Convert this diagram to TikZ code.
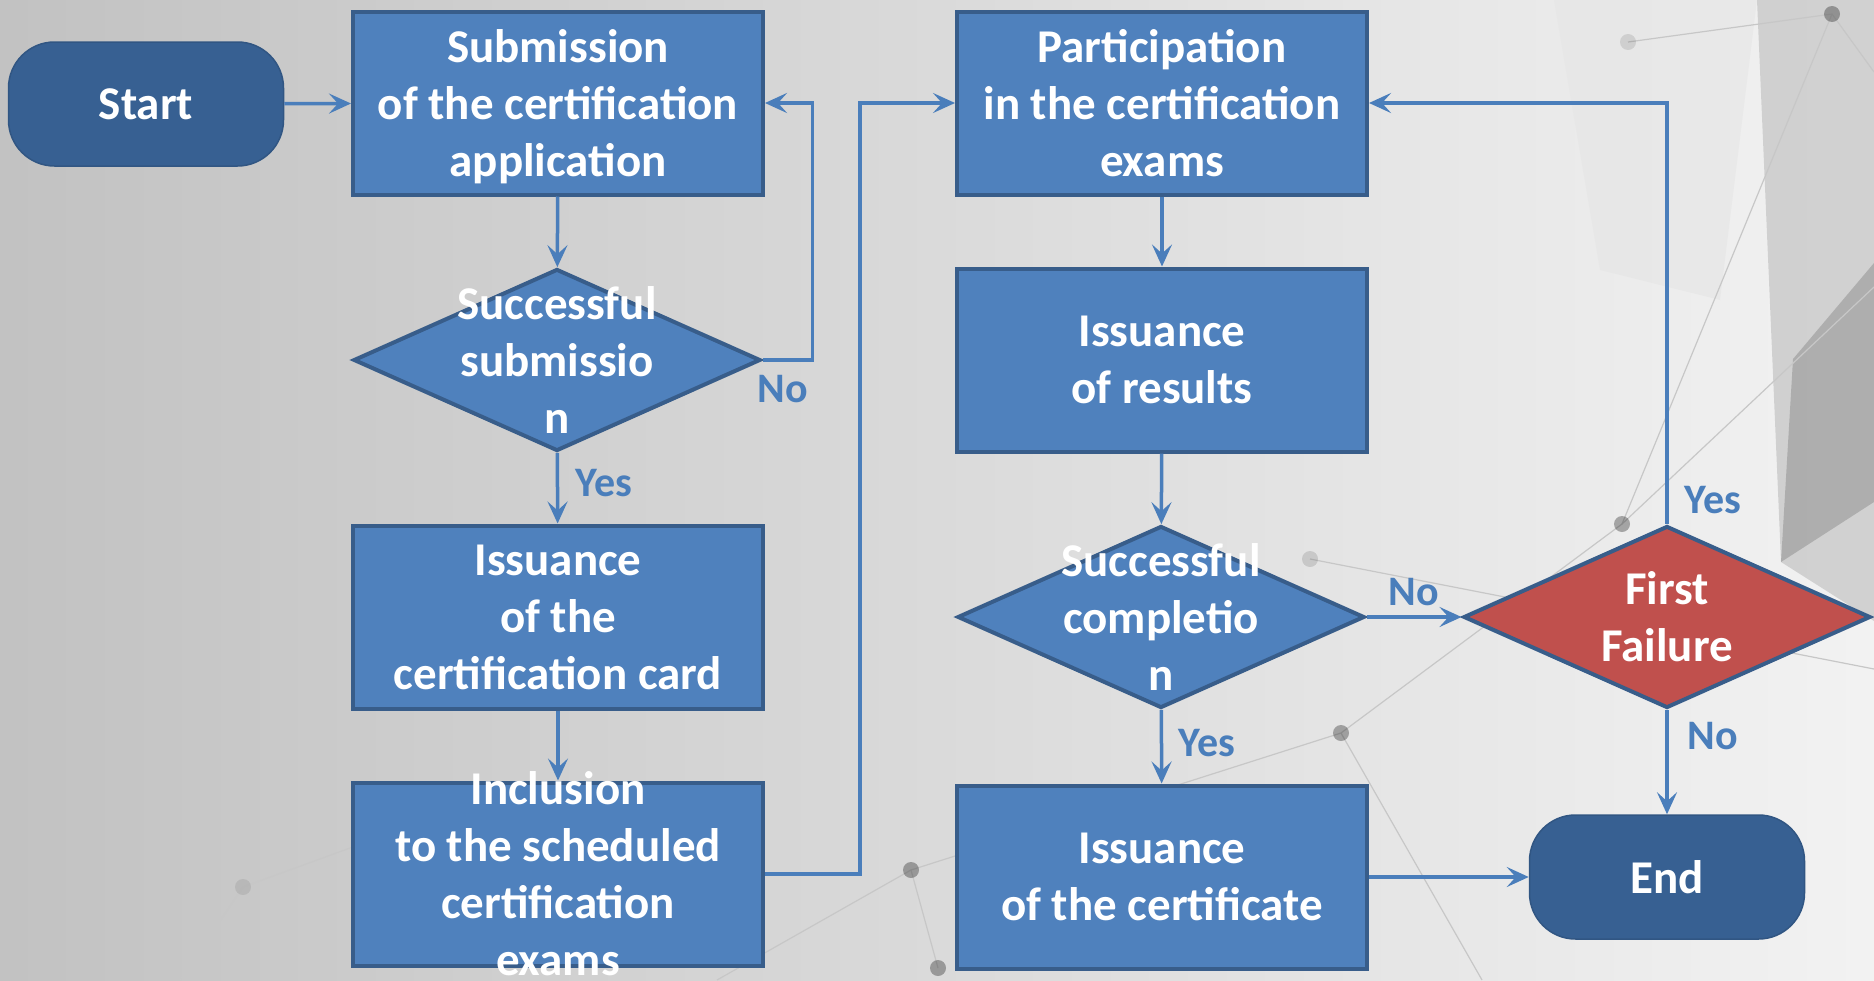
\documentclass[tikz,border=0pt]{standalone}
\usepackage{fontspec}
\setmainfont{Carlito}
\usepackage{tikz}
\usetikzlibrary{shapes.geometric,arrows.meta}

\definecolor{boxblue}{HTML}{4F81BD}
\definecolor{edgeblue}{HTML}{385D8A}
\definecolor{termblue}{HTML}{376092}
\definecolor{linkblue}{HTML}{4A7EBB}
\definecolor{failred}{HTML}{C0504D}

\begin{document}
\begin{tikzpicture}
      [
      x=1pt,y=-1pt,
      block/.style={rectangle,draw=edgeblue,fill=boxblue,line width=4pt,minimum width=410pt,minimum height=183pt,inner sep=0pt,text=white,align=center,font=\fontsize{47}{57}\selectfont\bfseries},
      terminal/.style={rectangle,rounded corners=46pt,draw=termblue!90!black,fill=termblue,line width=1.5pt,minimum width=275pt,minimum height=124pt,text=white,font=\fontsize{47}{57}\selectfont\bfseries},
      decision/.style={diamond,draw=edgeblue,fill=boxblue,line width=4pt,minimum width=407pt,minimum height=182pt,inner sep=0pt},
      dtext/.style={text=white,align=center,inner sep=0pt,font=\fontsize{47}{57}\selectfont\bfseries},
      answer/.style={text=linkblue,font=\fontsize{42}{50}\selectfont\bfseries},
      link/.style={draw=linkblue,line width=3.5pt,-{Stealth[length=22pt,width=20pt,inset=9pt]}},
      net/.style={draw=black!22,line width=1.2pt},
      knot/.style={circle,fill=black,fill opacity=.3,inner sep=0pt,minimum size=16pt}
      ]
      \shade[left color=black!24,right color=black!5] (0,0) rectangle (1874,980);
      \useasboundingbox (0,0) rectangle (1874,980);
      % background network
      \fill[black!30,opacity=.5] (1757,0) -- (1874,0) -- (1874,621) -- (1781,562) -- cycle;
      \fill[black!45,opacity=.5] (1793,359) -- (1874,263) -- (1874,502) -- (1781,562) -- cycle;
      \fill[black!10,opacity=.6] (1554,0) -- (1757,0) -- (1720,300) -- (1600,270) -- cycle;
      \draw[net] (1832,14) -- (1622,524) -- (1341,733) -- (911,870) -- (938,968);
      \draw[net] (1832,14) -- (1874,72);
      \draw[net] (1628,42) -- (1832,14);
      \draw[net] (1622,524) -- (1874,287);
      \draw[net] (1310,559) -- (1874,669);
      \draw[net] (1341,733) -- (1482,980);
      \draw[net] (911,870) -- (717,980);
      \draw[net] (243,887) -- (180,980);
      \draw[net] (243,887) -- (383,836);
      \node (k1) at (1832,14) [knot] {};
      \node (k2) at (1622,524) [knot] {};
      \node (k3) at (1341,733) [knot] {};
      \node (k4) at (911,870) [knot] {};
      \node (k5) at (938,968) [knot] {};
      \node (k6) at (1310,559) [knot,fill opacity=.12] {};
      \node (k7) at (243,887) [knot,fill opacity=.08] {};
      \node (k8) at (1628,42) [knot,fill opacity=.1] {};
      % left column
      \node (start) at (146,104) [terminal] {Start};
      \node (sub) at (558,103) [block] {Submission\\of the certification\\\raisebox{0pt}[\height][0pt]{application}};
      \node (d1) at (557,360) [decision] {};
      \node (d1t) at (d1) [dtext] {Successful\\submissio\\n};
      \node (card) at (558,617) [block] {Issuance\\of the\\certification card};
      \node (inc) at (558,874) [block] {};
      \node (inct) at (inc) [dtext] {Inclusion\\to the scheduled\\certification\\exams};
      % right column
      \node (part) at (1162,103) [block] {Participation\\in the certification\\exams};
      \node (res) at (1162,360) [block] {Issuance\\of results};
      \node (d2) at (1161,617) [decision] {};
      \node (d2t) at (d2) [dtext] {Successful\\completio\\n};
      \node (cert) at (1162,877) [block] {Issuance\\of the certificate};
      \node (ff) at (1667,617) [decision,fill=failred] {};
      \node (fft) at (ff) [dtext] {First\\Failure};
      \node (end) at (1667,877) [terminal] {End};
      % answers
      \node (no1) at (783,389) [answer] {No};
      \node (yes1) at (604,483) [answer] {Yes};
      \node (no2) at (1414,592) [answer] {No};
      \node (yes2) at (1207,743) [answer] {Yes};
      \node (yes3) at (1713,500) [answer] {Yes};
      \node (no3) at (1713,736) [answer] {No};
      % connectors
      \draw [link] (start) to (sub);
      \draw [link] (sub) to (d1);
      \draw [link] (d1.east) -- ++(50,0) |- (sub.east);
      \draw [link] (d1) to (card);
      \draw [link] (card) to (inc);
      \draw [link] (inc.east) -- ++(95,0) |- (part.west);
      \draw [link] (part) to (res);
      \draw [link] (res) to (d2);
      \draw [link] (d2.east) to (ff.west);
      \draw [link] (d2) to (cert);
      \draw [link] (ff.north) |- (part.east);
      \draw [link] (ff) to (end);
      \draw [link] (cert.east) to (end.west);
    \end{tikzpicture}
\end{document}
